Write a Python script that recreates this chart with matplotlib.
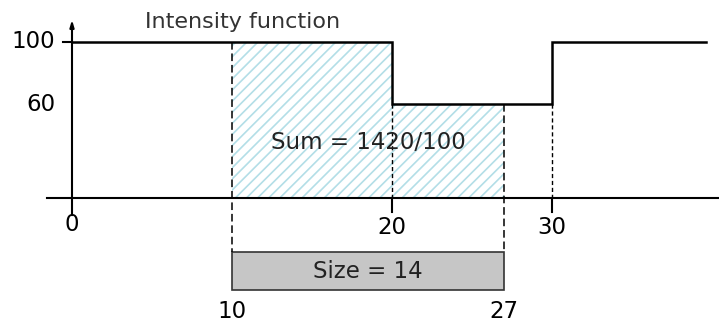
import matplotlib
matplotlib.use("Agg")
import matplotlib.pyplot as plt
from matplotlib.patches import Rectangle

# ---- data ----
breakpoints = [0, 20, 30, 39.6]      # step edges of intensity function
intensity = [100, 60, 100]           # level on each step
y_ticks = [100, 60]
x_labels_axis = [0, 20, 30]
window_start = 10
window_end = 27
sum_label = "Sum = 1420/100"
size_label = "Size = 14"
title = "Intensity function"

plt.rcParams['font.family'] = ['DejaVu Sans']
plt.rcParams['hatch.linewidth'] = 1.2
plt.rcParams['hatch.color'] = '#b3dee7'

fig = plt.figure(figsize=(7.19, 3.24), dpi=100)
ax = fig.add_axes([0, 0, 1, 1])
ax.set_xlim(-4.5, 40.4375)
ax.set_ylim(-80.77, 126.92)
ax.axis('off')

# step function
xs, ys = [], []
for i, v in enumerate(intensity):
    xs += [breakpoints[i], breakpoints[i + 1]]
    ys += [v, v]
ax.plot(xs, ys, color='black', lw=1.8, solid_joinstyle='miter', zorder=4)

# hatched sum area between window_start and window_end
hx, hy = [], []
for i, v in enumerate(intensity):
    a = max(breakpoints[i], window_start)
    b = min(breakpoints[i + 1], window_end)
    if a < b:
        hx += [a, b]
        hy += [v, v]
ax.fill_between(hx, 0, hy, facecolor='white', edgecolor='#b3dee7', hatch='///', lw=0, zorder=1)

# axes
ax.plot([-1.56, 40.44], [0, 0], color='black', lw=1.5, zorder=5)
ax.annotate('', xy=(0, 116), xytext=(0, -12.8),
            arrowprops=dict(arrowstyle='-|>,head_length=0.4,head_width=0.12', color='black', lw=1.5), zorder=5)
ax.plot([-0.56, 0], [100, 100], color='black', lw=1.5, zorder=5)
for t in [20, 30]:
    ax.plot([t, t], [0, -9], color='black', lw=1.5, zorder=5)

# dashed guide lines
box_top, box_bot = -34.6, -59
ax.plot([window_start] * 2, [100, box_top], color='black', lw=1.1, ls=(0, (5, 2.5)), zorder=3)
ax.plot([window_end] * 2, [60, box_top], color='black', lw=1.1, ls=(0, (5, 2.5)), zorder=3)
ax.plot([20, 20], [60, 0], color='black', lw=1.0, ls=(0, (3, 2)), zorder=3)
ax.plot([30, 30], [60, 0], color='black', lw=1.0, ls=(0, (3, 2)), zorder=3)

# size box
ax.add_patch(Rectangle((window_start, box_bot), window_end - window_start, box_top - box_bot,
                       facecolor='#c6c6c6', edgecolor='#333333', lw=1.2, zorder=2))

fs = 16.5
ax.text((window_start + window_end) / 2, (box_top + box_bot) / 2, size_label,
        ha='center', va='center', fontsize=fs, color='#222222', zorder=6)
ax.text(18.5, 35.3, sum_label, ha='center', va='center', fontsize=fs, color='#222222', zorder=6)
ax.text(4.56, 112.8, title, ha='left', va='center', fontsize=16, color='#333333')

for v in y_ticks:
    ax.text(-1.06, v, str(v), ha='right', va='center', fontsize=fs, color='black')
ax.text(0, -17.3, str(x_labels_axis[0]), ha='center', va='center', fontsize=fs)
for t in x_labels_axis[1:]:
    ax.text(t, -19.2, str(t), ha='center', va='center', fontsize=fs)
ax.text(window_start, -72.5, str(window_start), ha='center', va='center', fontsize=fs)
ax.text(window_end, -72.5, str(window_end), ha='center', va='center', fontsize=fs)

fig.savefig('out.png', dpi=100)
